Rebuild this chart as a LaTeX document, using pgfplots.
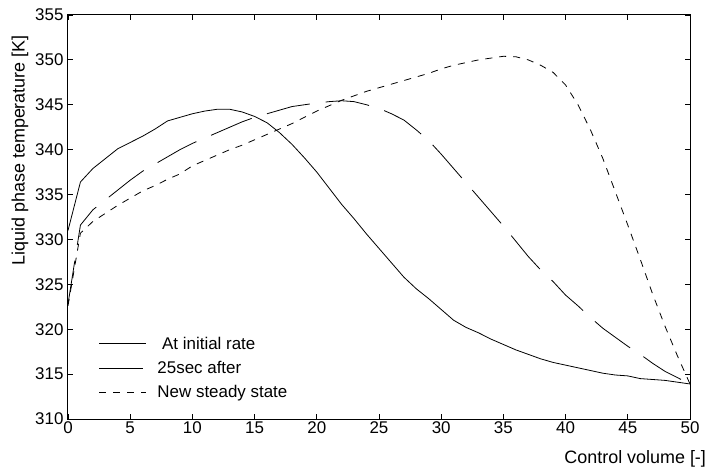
\documentclass[border=0pt]{standalone}
\usepackage{fontspec}
\setmainfont{Liberation Sans}
\usepackage{pgfplots}
\usepackage{pgfplotstable}
\pgfplotsset{compat=1.18}
\usetikzlibrary{calc}

% liquid phase temperature along the control volumes
\pgfplotstableread{
x  init   after  steady
0  331.0  322.8  322.6
1  336.4  331.6  330.7
2  337.9  333.3  332.0
3  339.0  334.4  332.9
4  340.1  335.5  333.8
5  340.8  336.6  334.6
6  341.5  337.6  335.4
7  342.3  338.4  336.0
8  343.2  339.2  336.7
9  343.6  340.0  337.3
10 344.0  340.7  338.2
11 344.3  341.3  338.8
12 344.5  341.9  339.4
13 344.5  342.5  340.0
14 344.2  343.1  340.5
15 343.7  343.6  341.1
16 343.0  344.0  341.7
17 341.9  344.4  342.3
18 340.6  344.8  342.9
19 339.1  345.0  343.6
20 337.5  345.2  344.3
21 335.7  345.35 344.9
22 333.9  345.45 345.5
23 332.3  345.35 346.0
24 330.6  345.0  346.5
25 329.0  344.6  346.9
26 327.4  344.0  347.3
27 325.8  343.3  347.7
28 324.5  342.2  348.1
29 323.4  341.0  348.5
30 322.2  339.5  349.0
31 321.0  337.9  349.4
32 320.2  336.3  349.7
33 319.6  334.7  350.0
34 318.9  333.1  350.2
35 318.3  331.5  350.4
36 317.7  329.8  350.35
37 317.2  328.1  350.0
38 316.7  326.6  349.4
39 316.3  325.3  348.6
40 316.0  323.8  347.2
41 315.7  322.6  345.0
42 315.4  321.3  342.2
43 315.1  320.1  339.0
44 314.9  319.1  335.3
45 314.8  318.1  331.6
46 314.5  317.2  327.8
47 314.4  316.2  323.9
48 314.3  315.3  320.3
49 314.1  314.6  317.0
50 313.9  313.9  313.9
}\temps

\begin{document}
\begin{tikzpicture}
\begin{axis}[
  name=ax, at={(0,0)}, anchor=south west,
  scale only axis, width=622bp, height=404bp,
  xmin=0, xmax=50, ymin=310, ymax=355,
  xtick={0,5,...,50}, ytick={310,315,...,355},
  tick align=inside, major tick length=5bp,
  axis line style={line width=1bp},
  tick style={line width=0.8bp, black},
  /pgf/number format/assume math mode=true,
  tick label style={font=\fontsize{17}{20}\selectfont},
  xticklabel style={yshift=1bp},
  yticklabel style={xshift=-1bp},
  label style={font=\fontsize{18}{22}\selectfont},
  xlabel={Control volume [-]},
  xlabel style={at={(axis description cs:1.026,-0.078)}, anchor=north east, inner sep=0pt},
  ylabel={Liquid phase temperature [K]},
  ylabel style={at={(ticklabel cs:0.665)}},
  legend cell align=left,
  legend image code/.code={\draw[#1] (0bp,0bp) -- (47bp,0bp);},
  legend style={draw=none, fill=none, at={(axis cs:2.45,319.4)}, anchor=north west,
    font=\fontsize{17}{20}\selectfont, row sep=6.5bp, inner sep=0pt,
    /tikz/every odd column/.append style={column sep=9bp}},
]
\addplot[black, line width=0.8bp] table[x=x, y=init] {\temps};
\addplot[black, line width=0.8bp, dash pattern=on 44bp off 16bp] table[x=x, y=after] {\temps};
\addplot[black, line width=0.8bp, dash pattern=on 7bp off 7bp] table[x=x, y=steady] {\temps};
\legend{\ At initial rate, 25sec after, New steady state}
\end{axis}
\pgfresetboundingbox
\path[use as bounding box] ($(ax.south west)+(-68bp,-56bp)$) rectangle ($(ax.north east)+(19bp,15bp)$);
\end{tikzpicture}
\end{document}
